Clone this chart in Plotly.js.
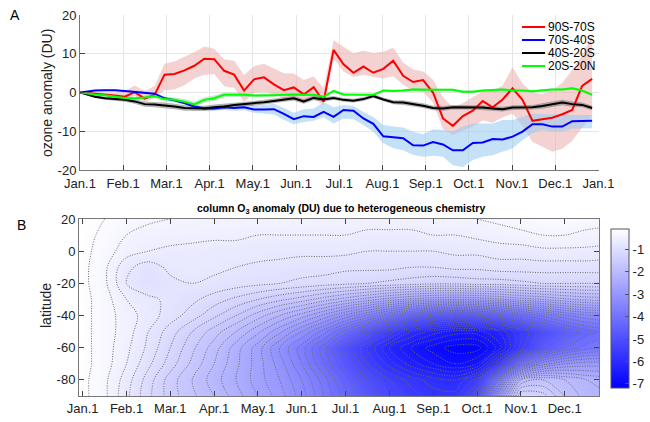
<!DOCTYPE html>
<html><head><meta charset="utf-8">
<script src="https://cdn.plot.ly/plotly-3.0.1.min.js"></script>
<style>html,body{margin:0;padding:0;background:#fff}#chart{width:650px;height:422px}</style>
</head><body><div id="chart"></div>
<script>
// ---------- Panel A data (weekly means, day of year) ----------
const weekDays = [0, 3.5, 10.5, 17.5, 24.5, 31.5, 38.5, 45.5, 52.5, 59.5,
  66.5, 73.5, 80.5, 87.5, 94.5, 101.5, 108.5, 115.5, 122.5, 129.5,
  136.5, 143.5, 150.5, 157.5, 164.5, 171.5, 178.5, 185.5, 192.5, 199.5,
  206.5, 213.5, 220.5, 227.5, 234.5, 241.5, 248.5, 255.5, 262.5, 269.5,
  276.5, 283.5, 290.5, 297.5, 304.5, 311.5, 318.5, 325.5, 332.5, 339.5,
  346.5, 353.5, 360.5];

const s90S70S = [0, 0, -0.3, -0.5, -0.8, -1.1, 0.1, -1.6, -0.6, 4.6,
  4.8, 5.7, 6.9, 8.7, 8.6, 5.6, 4.6, 0.5, 3.4, 3.9,
  2.1, 0.6, 1.3, -0.5, 1.4, -2.4, 11.0, 7.3, 5.1, 6.7,
  5.1, 6.1, 8.2, 4.3, 2.7, 3.2, 0.0, -6.7, -8.6, -6.1,
  -4.7, -2.2, -3.8, -1.8, 1.1, -1.9, -7.3, -6.9, -6.5, -5.6,
  -4.5, 1.7, 3.5];
const s90S70Sup = [0, 0.3, 0.1, 0.0, -0.2, 0.3, 1.8, 0.4, 1.6, 7.4,
  8.0, 9.2, 10.4, 11.9, 11.3, 8.6, 8.2, 4.5, 6.8, 7.4,
  6.3, 5.0, 4.9, 3.2, 4.1, 1.1, 13.5, 11.8, 10.1, 10.8,
  10.2, 10.5, 11.6, 7.7, 6.0, 5.4, 3.3, -1.2, -3.8, -2.8,
  -1.2, 0.3, 0.4, 1.8, 6.5, 2.3, 0.0, -0.4, 0.5, 2.5,
  5.8, 9.5, 14.8];
const s90S70Slo = [0, -0.3, -0.7, -1.0, -1.4, -2.0, -0.8, -2.4, -1.5, 0.6,
  0.8, 1.9, 3.6, 4.6, 4.8, 1.6, 1.2, -2.4, -0.2, 0.2,
  -0.6, -1.5, -1.5, -2.8, -1.5, -3.3, 8.8, 5.4, 4.0, 4.5,
  4.0, 3.6, 4.2, 2.0, 0.4, 0.2, -2.5, -9.4, -11.0, -9.8,
  -8.8, -7.2, -7.8, -6.4, -5.4, -8.5, -12.8, -14.0, -15.3, -14.5,
  -12.5, -9.0, -6.0];

const s70S40S = [0, 0.2, 0.5, 0.6, 0.6, 0.4, 0.2, -0.1, -0.3, -1.5,
  -2.0, -2.7, -3.6, -4.1, -4.1, -3.8, -4.0, -3.8, -4.4, -4.4,
  -4.3, -5.5, -6.9, -6.1, -6.3, -5.0, -6.3, -4.5, -4.7, -6.7,
  -8.1, -11.3, -11.5, -11.8, -13.6, -13.7, -12.8, -13.4, -14.9, -14.9,
  -13.0, -12.9, -12.0, -12.1, -11.4, -10.1, -8.2, -8.2, -8.8, -8.8,
  -7.4, -7.4, -7.3];
const s70S40Sup = [0, 0.4, 0.7, 0.8, 0.8, 0.6, 0.4, 0.2, 0.0, -1.1,
  -1.6, -2.3, -3.1, -3.6, -3.5, -3.1, -3.2, -3.0, -3.4, -3.2,
  -2.9, -4.0, -5.2, -4.3, -4.1, -2.5, -3.8, -3.2, -3.5, -5.0,
  -6.3, -8.4, -8.8, -9.0, -10.1, -10.8, -9.5, -9.7, -10.0, -8.8,
  -8.0, -8.0, -8.0, -7.1, -7.1, -6.3, -5.4, -5.6, -5.7, -5.8,
  -5.8, -5.8, -5.8];
const s70S40Slo = [0, 0.0, 0.3, 0.4, 0.4, 0.2, 0.0, -0.4, -0.6, -1.9,
  -2.4, -3.1, -4.0, -4.6, -4.7, -4.5, -4.7, -4.6, -5.2, -5.4,
  -5.7, -7.0, -8.2, -7.6, -7.3, -6.4, -8.0, -6.7, -6.9, -8.4,
  -10.1, -13.1, -14.4, -14.9, -16.1, -16.6, -16.3, -16.6, -18.8, -19.2,
  -17.4, -16.6, -16.2, -15.3, -14.4, -12.3, -10.5, -9.7, -10.1, -10.1,
  -9.3, -9.3, -9.2];

const s40S20S = [0, -0.4, -1.1, -1.5, -1.7, -1.9, -2.3, -3.0, -3.1, -3.3,
  -3.6, -4.0, -4.1, -4.1, -3.8, -3.6, -3.2, -3.0, -2.8, -2.5,
  -2.2, -1.8, -1.5, -2.3, -1.4, -1.8, -1.4, -1.9, -2.1, -1.7,
  -0.9, -1.8, -2.5, -2.6, -3.0, -3.4, -4.0, -4.1, -3.8, -3.8,
  -3.8, -3.9, -4.1, -4.3, -3.9, -3.8, -3.8, -3.5, -3.1, -2.6,
  -3.0, -3.2, -4.0];
const s40S20Serr = [0, 0.2, 0.3, 0.4, 0.5, 0.5, 0.6, 0.7, 0.7, 0.7,
  0.7, 0.7, 0.7, 0.7, 0.7, 0.7, 0.6, 0.6, 0.6, 0.6,
  0.6, 0.6, 0.6, 0.6, 0.6, 0.6, 0.5, 0.5, 0.5, 0.5,
  0.5, 0.5, 0.5, 0.6, 0.6, 0.6, 0.6, 0.6, 0.6, 0.6,
  0.6, 0.6, 0.6, 0.6, 0.6, 0.6, 0.6, 0.7, 0.7, 0.7,
  0.7, 0.6, 0.6];

const s20S20N = [0, -0.2, -0.5, -0.7, -1.1, -1.4, -1.5, -1.3, -0.9, -1.7,
  -1.9, -2.4, -3.1, -1.9, -1.5, -0.6, -0.6, -0.6, -0.8, -0.8,
  -0.7, -0.6, -0.5, -0.6, -0.6, -1.1, 0.4, -0.5, -0.6, -0.6,
  -0.6, 0.5, 0.4, 0.5, 0.8, 0.7, 0.7, 0.7, 0.7, 0.2,
  0.2, 0.5, 0.7, 0.8, 0.5, 0.5, 0.3, 0.5, 0.8, 0.8,
  1.1, 0.5, -0.6];
const s20S20Nerr = [0, 0.2, 0.3, 0.3, 0.3, 0.4, 0.4, 0.4, 0.5, 0.6,
  0.6, 0.7, 0.7, 0.7, 0.7, 0.6, 0.6, 0.5, 0.4, 0.4,
  0.4, 0.3, 0.3, 0.3, 0.3, 0.3, 0.3, 0.3, 0.3, 0.3,
  0.3, 0.3, 0.3, 0.3, 0.3, 0.3, 0.3, 0.3, 0.3, 0.3,
  0.3, 0.3, 0.3, 0.3, 0.3, 0.3, 0.3, 0.3, 0.3, 0.3,
  0.3, 0.3, 0.3];

const seriesNames = ['90S-70S', '70S-40S', '40S-20S', '20S-20N'];
const monthTickDays = [0, 30.42, 60.83, 91.25, 121.67, 152.08, 182.5, 212.92, 243.33, 273.75, 304.17, 334.58, 365];
const monthLabelsA = ['Jan.1','Feb.1','Mar.1','Apr.1','May.1','Jun.1','Jul.1','Aug.1','Sep.1','Oct.1','Nov.1','Dec.1','Jan.1'];
const yTicksA = [-20, -10, 0, 10, 20];
const yTickTextA = ['-20', '-10', '0', '10', '20'];

// ---------- Panel B data (column O3 anomaly, DU) ----------
const monthsB = [-0.1, 0.5, 1.0, 1.5, 2.0, 2.5, 3.0, 3.5, 4.0, 4.5, 5.0, 5.5, 6.0,
  6.5, 7.0, 7.5, 8.0, 8.5, 9.0, 9.5, 10.0, 10.5, 11.0, 11.5, 12.0];
const latsB = [-90, -80, -70, -60, -50, -40, -30, -20, -10, 0, 10, 20];
const ozoneGrid = [
  /* -90 */ [-0.1, -0.35, -0.75, -1.15, -1.5, -1.75, -2.0, -2.3, -2.6, -2.9, -3.3, -3.8, -4.3, -4.8, -5.2, -5.5, -5.7, -5.7, -5.0, -3.0, -1.2, -1.3, -1.8, -2.1, -2.2],
  /* -80 */ [-0.1, -0.35, -0.7, -1.1, -1.5, -1.8, -2.1, -2.4, -2.7, -3.0, -3.4, -3.9, -4.5, -5.0, -5.4, -5.7, -5.9, -6.0, -5.5, -3.8, -2.0, -1.8, -2.0, -2.2, -2.3],
  /* -70 */ [-0.1, -0.3, -0.6, -0.95, -1.3, -1.65, -2.0, -2.35, -2.7, -3.1, -3.6, -4.2, -4.8, -5.4, -5.9, -6.3, -6.6, -6.8, -6.6, -5.5, -4.0, -3.3, -3.0, -2.9, -2.9],
  /* -60 */ [-0.1, -0.3, -0.55, -0.85, -1.2, -1.55, -1.9, -2.3, -2.7, -3.2, -3.7, -4.3, -5.0, -5.6, -6.2, -6.6, -6.9, -7.1, -7.1, -6.5, -5.5, -4.7, -4.2, -3.9, -3.8],
  /* -50 */ [-0.1, -0.3, -0.5, -0.8, -1.1, -1.4, -1.7, -2.0, -2.35, -2.75, -3.2, -3.7, -4.3, -4.9, -5.5, -6.0, -6.3, -6.5, -6.5, -6.2, -5.6, -5.0, -4.6, -4.3, -4.1],
  /* -40 */ [-0.1, -0.3, -0.5, -0.7, -0.9, -1.1, -1.35, -1.6, -1.9, -2.2, -2.5, -2.85, -3.25, -3.65, -4.05, -4.45, -4.75, -4.85, -4.75, -4.55, -4.25, -3.95, -3.65, -3.45, -3.35],
  /* -30 */ [-0.1, -0.3, -0.6, -0.75, -0.85, -0.95, -1.1, -1.25, -1.4, -1.55, -1.7, -1.9, -2.1, -2.3, -2.5, -2.65, -2.75, -2.8, -2.75, -2.65, -2.5, -2.4, -2.25, -2.15, -2.1],
  /* -20 */ [-0.1, -0.35, -0.8, -0.95, -0.85, -0.8, -0.85, -0.9, -0.95, -1.0, -1.05, -1.1, -1.15, -1.2, -1.25, -1.3, -1.35, -1.35, -1.3, -1.3, -1.25, -1.2, -1.2, -1.2, -1.2],
  /* -10 */ [-0.1, -0.35, -0.75, -0.9, -0.75, -0.7, -0.75, -0.8, -0.85, -0.85, -0.9, -0.9, -0.95, -0.95, -0.95, -1.0, -1.0, -0.95, -0.95, -0.9, -0.9, -0.9, -0.9, -0.9, -0.9],
  /*   0 */ [-0.1, -0.3, -0.5, -0.6, -0.65, -0.65, -0.7, -0.7, -0.7, -0.75, -0.75, -0.75, -0.75, -0.8, -0.8, -0.8, -0.8, -0.75, -0.75, -0.7, -0.7, -0.65, -0.65, -0.65, -0.7],
  /*  10 */ [-0.1, -0.25, -0.4, -0.5, -0.5, -0.55, -0.55, -0.55, -0.6, -0.6, -0.6, -0.6, -0.6, -0.65, -0.65, -0.65, -0.6, -0.6, -0.55, -0.5, -0.45, -0.4, -0.4, -0.45, -0.45],
  /*  20 */ [-0.1, -0.2, -0.3, -0.35, -0.4, -0.4, -0.45, -0.45, -0.45, -0.45, -0.45, -0.5, -0.5, -0.5, -0.5, -0.5, -0.45, -0.45, -0.4, -0.35, -0.3, -0.25, -0.25, -0.3, -0.35]
];
const monthTicksB = [0, 1, 2, 3, 4, 5, 6, 7, 8, 9, 10, 11];
const monthLabelsB = ['Jan.1','Feb.1','Mar.1','Apr.1','May.1','Jun.1','Jul.1','Aug.1','Sep.1','Oct.1','Nov.1','Dec.1'];
const latTicksB = [20, 0, -20, -40, -60, -80];
const latTickTextB = ['20', '0', '-20', '-40', '-60', '-80'];
const cbTicks = [-1, -2, -3, -4, -5, -6, -7];
const cbTickText = ['-1', '-2', '-3', '-4', '-5', '-6', '-7'];

// ---------- build ----------
const W = 650, H = 422;
const FONT = 'Liberation Sans, Arial, Helvetica, sans-serif';
const lineColors = ['#ff0000', '#0000ff', '#000000', '#00ff00'];
const bandColors = ['rgba(236,180,180,0.6)', 'rgba(150,200,240,0.55)', 'rgba(90,90,90,0.45)', 'rgba(120,210,140,0.45)'];
const values = [s90S70S, s70S40S, s40S20S, s20S20N];
const uppers = [s90S70Sup, s70S40Sup, s40S20S.map((v, i) => v + s40S20Serr[i]), s20S20N.map((v, i) => v + s20S20Nerr[i])];
const lowers = [s90S70Slo, s70S40Slo, s40S20S.map((v, i) => v - s40S20Serr[i]), s20S20N.map((v, i) => v - s20S20Nerr[i])];

const traces = [];
for (let s = 0; s < 4; s++) {
  traces.push({
    type: 'scatter', mode: 'lines', xaxis: 'x', yaxis: 'y',
    x: weekDays.concat(weekDays.slice().reverse()),
    y: uppers[s].concat(lowers[s].slice().reverse()),
    fill: 'toself', fillcolor: bandColors[s], line: {width: 0}, hoverinfo: 'skip', showlegend: false
  });
}
for (let s = 0; s < 4; s++) {
  traces.push({
    type: 'scatter', mode: 'lines', xaxis: 'x', yaxis: 'y', name: seriesNames[s],
    x: weekDays, y: values[s], line: {color: lineColors[s], width: 2}, showlegend: false
  });
}
traces.push({
  type: 'contour', xaxis: 'x2', yaxis: 'y2', x: monthsB, y: latsB, z: ozoneGrid,
  zmin: -7.2, zmax: -0.1,
  colorscale: [[0, '#0000ff'], [1, '#ffffff']],
  contours: {coloring: 'heatmap', start: -7.0, end: -0.2, size: 0.2, showlines: false},
  line: {width: 0},
  colorbar: {
    x: 611 / W, xanchor: 'left', xpad: 0, y: 1 - 308.8 / H, yanchor: 'middle', ypad: 0,
    len: 159, lenmode: 'pixels', thickness: 18, thicknessmode: 'pixels',
    outlinecolor: '#555', outlinewidth: 1,
    tickvals: cbTicks, ticktext: cbTickText, ticks: 'inside', ticklen: 4, tickcolor: '#555',
    tickfont: {family: FONT, size: 13, color: '#222'}
  },
  hoverinfo: 'skip'
});
traces.push({
  type: 'contour', xaxis: 'x2', yaxis: 'y2', x: monthsB, y: latsB, z: ozoneGrid,
  showscale: false,
  contours: {coloring: 'none', start: -7.0, end: -0.2, size: 0.2, showlines: true},
  line: {color: '#6a6a6a', width: 1, dash: '1px,1.5px', smoothing: 1},
  hoverinfo: 'skip'
});

const axisCommon = {
  ticks: 'inside', ticklen: 5, tickcolor: '#444', showline: true, linecolor: '#777', linewidth: 1,
  zeroline: false, tickfont: {family: FONT, size: 13, color: '#222'}
};

const shapes = [], annotations = [];
const legY = [27, 40, 53, 66];
for (let s = 0; s < 4; s++) {
  shapes.push({type: 'line', xref: 'paper', yref: 'paper', x0: 522 / W, x1: 545 / W,
    y0: 1 - legY[s] / H, y1: 1 - legY[s] / H, line: {color: lineColors[s], width: 2}});
  annotations.push({xref: 'paper', yref: 'paper', x: 546 / W, y: 1 - legY[s] / H, xanchor: 'left', yanchor: 'middle',
    text: seriesNames[s], showarrow: false, font: {family: FONT, size: 12, color: '#000'}});
}
annotations.push({xref: 'paper', yref: 'paper', x: 8 / W, y: 1 - 15 / H, xanchor: 'left', yanchor: 'middle',
  text: 'A', showarrow: false, font: {family: FONT, size: 14, color: '#000'}});
annotations.push({xref: 'paper', yref: 'paper', x: 15 / W, y: 1 - 225 / H, xanchor: 'left', yanchor: 'middle',
  text: 'B', showarrow: false, font: {family: FONT, size: 14, color: '#000'}});
annotations.push({xref: 'paper', yref: 'paper', x: 341 / W, y: 1 - 209 / H, xanchor: 'center', yanchor: 'middle',
  text: '<b>column O<sub>3</sub> anomaly (DU) due to heterogeneous chemistry</b>', showarrow: false,
  font: {family: FONT, size: 10.5, color: '#000'}});
annotations.push({xref: 'paper', yref: 'paper', x: 47 / W, y: 1 - 93 / H, xanchor: 'center', yanchor: 'middle',
  text: 'ozone anomaly (DU)', textangle: -90, showarrow: false, font: {family: FONT, size: 14, color: '#222'}});
annotations.push({xref: 'paper', yref: 'paper', x: 46 / W, y: 1 - 306 / H, xanchor: 'center', yanchor: 'middle',
  text: 'latitude', textangle: -90, showarrow: false, font: {family: FONT, size: 14, color: '#222'}});

const layout = {
  width: W, height: H, margin: {l: 0, r: 0, t: 0, b: 0},
  paper_bgcolor: '#fff', plot_bgcolor: '#fff', showlegend: false,
  font: {family: FONT, size: 13, color: '#222'},
  xaxis: Object.assign({}, axisCommon, {
    domain: [80 / W, 598.5 / W], range: [0, 365], tickvals: monthTickDays, ticktext: monthLabelsA,
    showgrid: true, gridcolor: '#e6e6e6', anchor: 'y', ticklabelstandoff: 1
  }),
  yaxis: Object.assign({}, axisCommon, {
    domain: [1 - 170 / H, 1 - 15 / H], range: [-20, 20], tickvals: yTicksA, ticktext: yTickTextA,
    showgrid: true, gridcolor: '#e6e6e6', anchor: 'x'
  }),
  xaxis2: Object.assign({}, axisCommon, {
    domain: [79 / W, 599.3 / W], range: [-0.084, 11.79], tickvals: monthTicksB, ticktext: monthLabelsB,
    showgrid: false, mirror: 'ticks', anchor: 'y2'
  }),
  yaxis2: Object.assign({}, axisCommon, {
    domain: [1 - 396 / H, 1 - 219 / H], range: [-90, 20], tickvals: latTicksB, ticktext: latTickTextB,
    showgrid: false, mirror: 'ticks', anchor: 'x2'
  }),
  shapes: shapes, annotations: annotations
};

Plotly.newPlot('chart', traces, layout, {displayModeBar: false, staticPlot: true});
</script>
</body></html>
